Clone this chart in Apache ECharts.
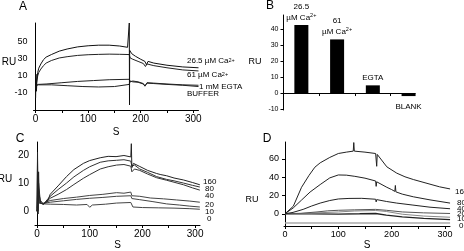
<!DOCTYPE html>
<html style="height: 100%">
<head>
  <meta charset="utf-8" />
  <title>SPR sensorgrams</title>
  <script src="https://cdn.jsdelivr.net/npm/echarts@6.0.0/dist/echarts.min.js"></script>
</head>
<body style="height: 100%; margin: 0; background: #fff">
  <div id="chart" style="width: 464px; height: 251px"></div>
  <script>
    const FONT = 'Liberation Sans, Arial, sans-serif';

    // time ticks shared by the sensorgram panels (s)
    const tTicks = [0, 50, 100, 150, 200, 250, 300];
    const tLabels = [0, 100, 200, 300];

    // panel A: [time s, RU]
    const a265 = [[0,-16],[0.8,12],[1.6,-8],[2.5,5],[4,14],[6,19],[10,24],[15,29],[20,32],[30,35],[45,39],[60,41.5],[80,44],[100,45.3],[120,46],[140,46],[160,45],[175,43.5],[178,43],[178.3,72],[178.7,-24],[179,40],[183,36],[190,33],[200,29.5],[208,27],[211,23],[214,27],[225,25],[250,22.5],[280,20.5],[310,19.5]];
    const a61 = [[0,-5],[2,3],[4,10],[6,14],[10,18],[15,22],[20,25],[30,28],[45,31],[60,32.5],[80,34],[100,34.8],[120,35.2],[140,35.5],[160,35.3],[178,35],[180,31],[185,29.5],[195,27],[205,24.5],[209,21],[212,24],[225,22],[250,19.5],[280,17],[310,15.8]];
    const aEgta = [[0,-2],[5,0],[20,0.5],[50,2],[80,3.5],[110,4.5],[140,5.5],[178,6],[180,3],[185,4],[195,3],[205,1],[208,-2],[212,1.5],[225,1],[250,0],[280,-1],[310,-2.5]];
    const aBuffer = [[0,-1],[5,-0.5],[30,-0.5],[60,-1.5],[90,-2.5],[120,-3],[150,-2.5],[178,0],[180,4],[185,3],[195,2.5],[205,0.5],[208,-2],[212,2],[225,1.5],[250,0.5],[280,-0.5],[310,-1]];
    const aYLabels = [-10, 10, 30, 50];

    // panel B: maximal binding
    const bPos = [1, 2, 3, 4];
    const bVals = [42.5, 33.5, 4.8, -1.9];
    const bText = ['26.5\nµM Ca{s|2+}', '61\nµM Ca{s|2+}', 'EGTA', 'BLANK'];
    const bYLabels = [-10, 0, 10, 20, 30, 40];

    // panel C: concentration series
    const c160 = [[0,0],[1,21],[2,-1],[3,14],[4,6],[7,3],[12,2.5],[20,3.5],[25,6],[40,9],[56,12.3],[70,14.8],[88,17],[100,18],[120,19],[135,19.5],[150,19.4],[165,19.8],[178,19.3],[179,24],[180,15.5],[183,17],[195,15.9],[210,14.5],[227,13.4],[235,13],[246,12.6],[260,11.8],[278,11.1],[295,10.2],[309,9.4]];
    const c80 = [[0,1],[1,18],[2,0],[3,10],[6,4],[12,2.5],[25,5.3],[40,7.7],[56,10],[70,12.2],[88,14.5],[100,15.8],[120,17.4],[135,17.9],[151,18.1],[165,18.3],[178,17.8],[180,16],[185,16.4],[195,15],[210,13.8],[227,12.3],[246,11.3],[260,10.8],[278,10],[295,9.2],[309,8.6]];
    const c40 = [[0,0],[2,12],[4,3],[12,2.5],[25,4.6],[40,6],[56,7.7],[70,9.5],[88,11.7],[100,13],[120,15],[135,15.8],[151,16.4],[165,16.6],[178,16],[180,14],[185,15],[195,14.5],[210,13.2],[227,11.9],[246,11],[260,10.3],[278,9.4],[295,8.3],[309,7.5]];
    const c20 = [[0,0],[3,8],[6,3],[12,2.8],[25,3.8],[50,4.5],[75,5],[100,5.6],[125,6],[151,6.6],[165,6.4],[178,6.8],[180,5.5],[195,5.3],[215,4.7],[240,4.4],[265,4],[290,3.6],[309,3.2]];
    const c10 = [[0,0],[3,5],[6,2.8],[12,2.8],[25,3.2],[50,3.7],[75,4.2],[100,4.6],[125,4.9],[151,5.3],[178,5.5],[180,4.5],[195,4.1],[220,3.4],[246,2.6],[270,2.2],[290,1.8],[309,1.5]];
    const c0 = [[0,0],[3,3],[6,2.5],[12,2.6],[25,2.5],[50,2.4],[75,2.2],[95,2.4],[100,1.4],[105,2.2],[130,2.5],[151,2.9],[178,3.1],[182,1.5],[200,1.3],[230,1.2],[260,1.1],[290,0.9],[309,0.7]];
    const cYLabels = [0, 10, 20];

    // panel D: concentration series
    const d160 = [[0,0],[15.6,8.3],[31,29],[45,42],[56,51],[66,55.8],[84,61.7],[100,66],[115,67.5],[128,68.6],[129,78],[130,68.6],[150,67.5],[170,66],[172,52],[173,65],[191,51.4],[209.6,44.5],[225,40.5],[240.7,37.5],[272,32.4],[290,29.5],[309.6,27.2]];
    const d80 = [[0,0],[15.6,6.5],[31,15],[47,23.8],[66,32],[84,39.3],[100,42.5],[115,42.3],[131,41],[150,39],[170,35.9],[171,30],[172,35],[191,29],[200,26.5],[206,24.5],[207,31],[208,24],[220,21.5],[240.7,18.6],[272,15.2],[309.6,11.7]];
    const d40 = [[0,0],[15,1.5],[34,4.8],[50,8.5],[66,11.7],[84,14.5],[100,16.2],[120,16.8],[144,16.9],[170,15.9],[171,13],[172,15.5],[190,13.5],[209.6,11.7],[240,9.5],[272,7.2],[309.6,5.5]];
    const d20 = [[0,0],[30,0.5],[60,2],[80,3.2],[100,3.8],[130,4.3],[170,4.8],[190,3.8],[220,2],[260,1],[309.6,0.3]];
    const d10 = [[0,0],[30,0.3],[60,1],[100,2],[130,3],[170,3.6],[190,2.5],[220,-0.5],[260,-2.5],[309.6,-3.8]];
    const d0 = [[0,0],[50,-0.2],[100,-0.3],[140,0],[170,0.3],[190,-1.5],[220,-3.5],[260,-5],[309.6,-6.5]];
    const dBase = [[0,-10],[309.6,-10]];
    const dYLabels = [0, 20, 40, 60];

    const black = '#000';

    function timeAxis(grid, min, max, fs, gap) {
      return {
        type: 'value', gridIndex: grid, min: min, max: max,
        axisLine: { onZero: false, lineStyle: { color: black, width: 1 } },
        axisTick: { customValues: tTicks, length: 3, lineStyle: { color: black } },
        axisLabel: { customValues: tLabels, fontSize: fs, color: black, margin: 4, fontFamily: FONT },
        splitLine: { show: false },
        name: 'S', nameLocation: 'middle', nameGap: gap,
        nameTextStyle: { fontSize: 10, color: black, fontFamily: FONT }
      };
    }

    function ruAxis(grid, min, max, labels, fs, ticks) {
      return {
        type: 'value', gridIndex: grid, min: min, max: max,
        axisLine: { show: true, lineStyle: { color: black, width: 1 } },
        axisTick: { show: ticks, customValues: labels, length: 3, lineStyle: { color: black } },
        axisLabel: { customValues: labels, fontSize: fs, color: black, margin: ticks ? 5 : 6, fontFamily: FONT },
        splitLine: { show: false }
      };
    }

    function line(idx, data, color, width) {
      return {
        type: 'line', xAxisIndex: idx, yAxisIndex: idx, data: data,
        symbol: 'none', silent: true,
        lineStyle: { color: color, width: width || 1 }
      };
    }

    function txt(x, y, text, size, align) {
      return {
        type: 'text', x: x, y: y, silent: true,
        style: {
          text: text, fill: black, font: size + 'px ' + FONT,
          textAlign: align || 'center', textVerticalAlign: 'middle',
          rich: { s: { fontSize: size - 2.5, fontFamily: FONT, verticalAlign: 'top', lineHeight: 6, fill: black } }
        }
      };
    }

    const chart = echarts.init(document.getElementById('chart'));

    const bData = bPos.map((p, i) => ({
      value: [p, bVals[i]],
      label: {
        show: true,
        position: bVals[i] < 0 ? 'bottom' : 'top',
        distance: bVals[i] < 0 ? 5 : 2,
        formatter: bText[i],
        fontSize: 8, lineHeight: 11, color: black, fontFamily: FONT,
        rich: { s: { fontSize: 5.5, verticalAlign: 'top', lineHeight: 6, fontFamily: FONT, color: black } }
      }
    }));

    chart.setOption({
      animation: false,
      backgroundColor: '#fff',
      grid: [
        { left: 33.5, top: 23, width: 165, height: 87 },
        { left: 283.5, top: 15, width: 131.5, height: 95 },
        { left: 35, top: 142, width: 165, height: 87 },
        { left: 284, top: 142, width: 166, height: 89 }
      ],
      xAxis: [
        timeAxis(0, -4, 310, 10, 17),
        {
          type: 'value', gridIndex: 1, min: 0.5, max: 4.18,
          axisLine: { lineStyle: { color: black } },
          axisTick: { customValues: [1.5, 2.5, 3.5], length: 3, lineStyle: { color: black } },
          axisLabel: { show: false },
          splitLine: { show: false }
        },
        timeAxis(2, -3.8, 309.3, 10, 15),
        timeAxis(3, -1.9, 309.5, 9, 14)
      ],
      yAxis: [
        ruAxis(0, -30, 72, aYLabels, 9, false),
        ruAxis(1, -10.6, 48.75, bYLabels, 7, true),
        ruAxis(2, -4.9, 24.6, cYLabels, 10, false),
        ruAxis(3, -13.4, 78.6, dYLabels, 9, true)
      ],
      series: [
        line(0, aBuffer, '#222'),
        line(0, aEgta, '#222'),
        line(0, a61, '#222'),
        line(0, a265, '#111'),
        {
          type: 'bar', xAxisIndex: 1, yAxisIndex: 1, data: bData,
          barWidth: 14, itemStyle: { color: black }, silent: true
        },
        line(2, c0, '#444'),
        line(2, c10, '#444'),
        line(2, c20, '#444'),
        line(2, c40, '#333'),
        line(2, c80, '#333'),
        line(2, c160, '#222'),
        line(3, dBase, '#aaa', 1.5),
        line(3, d0, '#222', 1.3),
        line(3, d10, '#888'),
        line(3, d20, '#555'),
        line(3, d40, '#222'),
        line(3, d80, '#222'),
        line(3, d160, '#222')
      ],
      graphic: [
        txt(23, 7, 'A', 12),
        txt(270, 6, 'B', 12),
        txt(20, 139, 'C', 12),
        txt(267, 139, 'D', 12),
        txt(9, 62, 'RU', 10),
        txt(255, 62, 'RU', 9),
        txt(5, 179, 'RU', 10),
        txt(252, 200, 'RU', 9),
        txt(187, 61, '26.5 µM Ca{s|2+}', 8, 'left'),
        txt(187, 75, '61 µM Ca{s|2+}', 8, 'left'),
        txt(199, 87, '1 mM EGTA', 8, 'left'),
        txt(187, 94, 'BUFFER', 8, 'left'),
        txt(203, 182, '160', 8, 'left'),
        txt(205, 189, '80', 8, 'left'),
        txt(205, 196, '40', 8, 'left'),
        txt(205, 205, '20', 8, 'left'),
        txt(205, 212, '10', 8, 'left'),
        txt(207, 219, '0', 8, 'left'),
        txt(455, 192, '160', 8, 'left'),
        txt(457, 203, '80', 8, 'left'),
        txt(457, 209, '40', 8, 'left'),
        txt(457, 214, '20', 8, 'left'),
        txt(457, 219, '10', 8, 'left'),
        txt(459, 226, '0', 8, 'left')
      ]
    });
  </script>
</body>
</html>
